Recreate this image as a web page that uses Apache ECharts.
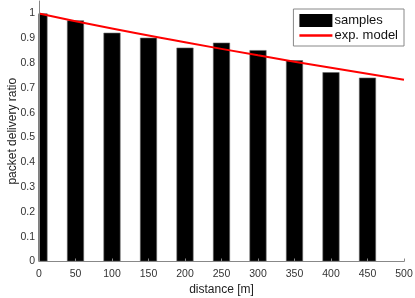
<!DOCTYPE html>
<html><head><meta charset="utf-8">
<script src="https://cdn.jsdelivr.net/npm/echarts@6/dist/echarts.min.js"></script>
<style>html,body{margin:0;padding:0;background:#fff}#c{width:415px;height:298px}</style>
</head><body><div id="c"></div>
<script>
const distances = [0, 50, 100, 150, 200, 250, 300, 350, 400, 450];
const samples = [1.0, 0.972, 0.922, 0.902, 0.862, 0.882, 0.852, 0.811, 0.763, 0.741];
const modelX = [0, 100, 200, 300, 400, 500];
const modelY = [1.0, 0.939, 0.884, 0.831, 0.781, 0.733];

const chart = echarts.init(document.getElementById('c'));
const font = 'Liberation Sans, Arial, sans-serif';
chart.setOption({
  animation: false,
  grid: {left: 39, right: 11, top: 1, bottom: 36.5, containLabel: false, outerBoundsMode: 'none'},
  graphic: [{
    type: 'rect', left: 0, top: 0, z: 50, silent: true,
    shape: {width: 38.5, height: 270}, style: {fill: '#fff'}
  }],
  legend: {
    orient: 'vertical', right: 11, top: 9,
    backgroundColor: '#fff', borderColor: '#888', borderWidth: 1,
    padding: [5, 6, 4, 6], itemGap: 2, itemWidth: 33, itemHeight: 13,
    symbolKeepAspect: true,
    textStyle: {fontFamily: font, fontSize: 13, color: '#111', padding: [0,0,0,-3]},
    data: [
      {name: 'samples', icon: 'rect', itemStyle: {borderWidth: 0, color: '#000'}},
      {name: 'exp. model', icon: 'path://M0,0 L33,0 L33,2.4 L0,2.4 Z'}
    ]
  },
  xAxis: {
    type: 'value', min: 0, max: 500, interval: 50, z: 60,
    name: 'distance [m]', nameLocation: 'middle', nameGap: 22, nameMoveOverlap: false,
    nameTextStyle: {fontFamily: font, fontSize: 12, color: '#222'},
    axisLine: {lineStyle: {color: '#888'}},
    axisTick: {inside: true, length: 3, lineStyle: {color: '#888'}},
    axisLabel: {fontFamily: font, fontSize: 10.5, color: '#333', margin: 7},
    splitLine: {show: false}
  },
  yAxis: {
    type: 'value', min: 0, max: 1.05, interval: 0.1, z: 60,
    name: 'packet delivery ratio', nameLocation: 'middle', nameGap: 20, nameMoveOverlap: false,
    nameTextStyle: {fontFamily: font, fontSize: 12, color: '#222'},
    axisLine: {show: true, lineStyle: {color: '#888'}},
    axisTick: {show: false},
    axisLabel: {fontFamily: font, fontSize: 10.5, color: '#333', margin: 4, showMaxLabel: false,
      formatter: v => (Math.round(v*10)/10).toString()},
    splitLine: {show: false}
  },
  series: [
    {
      name: 'samples', type: 'bar', barWidth: 17, clip: true,
      itemStyle: {color: '#000', borderColor: '#666', borderWidth: 0.6},
      data: distances.map((d, i) => [d, samples[i]])
    },
    {
      name: 'exp. model', type: 'line', symbol: 'none', smooth: true,
      lineStyle: {color: '#ff0000', width: 2}, itemStyle: {color: '#ff0000'},
      data: modelX.map((d, i) => [d, modelY[i]])
    }
  ]
});
</script></body></html>
